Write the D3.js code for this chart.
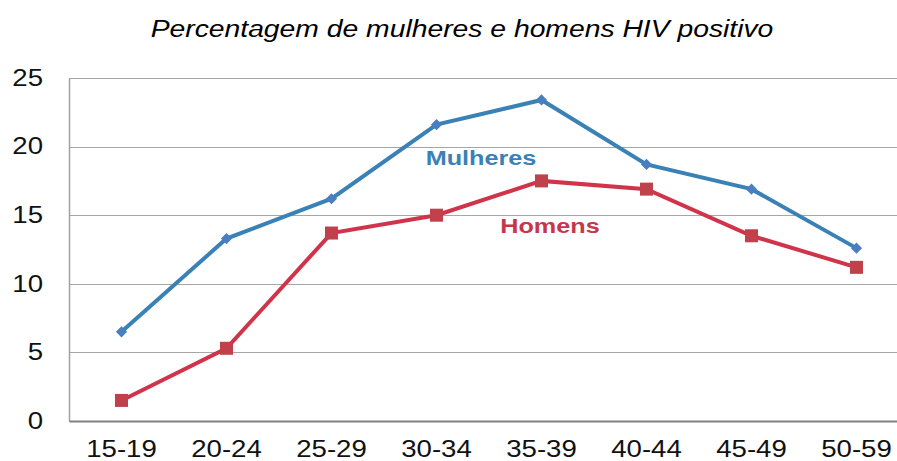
<!DOCTYPE html>
<html>
<head>
<meta charset="utf-8">
<script src="https://cdn.jsdelivr.net/npm/d3@7"></script>
<style>
  body { margin: 0; background: #fff; }
  svg { display: block; font-family: "Liberation Sans", Arial, sans-serif; }
</style>
</head>
<body>
<svg id="chart" width="897" height="461"></svg>
<script>
// age groups and % HIV positive
const ageGroups = ['15-19', '20-24', '25-29', '30-34', '35-39', '40-44', '45-49', '50-59'];
const mulheres = [6.5, 13.3, 16.2, 21.6, 23.4, 18.7, 16.9, 12.6];
const homens = [1.5, 5.3, 13.7, 15.0, 17.5, 16.9, 13.5, 11.2];
const yTicks = [0, 5, 10, 15, 20, 25];

const svg = d3.select('#chart');
const margin = {top: 78, left: 69};

// widen text horizontally, keeping its anchor
function stretch(sel, k = 1.2) {
  sel.each(function() {
    const w = this.getComputedTextLength();
    d3.select(this)
      .attr('textLength', w * k)
      .attr('lengthAdjust', 'spacingAndGlyphs');
  });
}

const x = d3.scaleBand()
  .domain(ageGroups)
  .range([margin.left, margin.left + 105 * ageGroups.length]);

const y = d3.scaleLinear()
  .domain([0, 25])
  .range([421, margin.top]);

// title
svg.append('text')
  .attr('x', 462)
  .attr('y', 37)
  .attr('text-anchor', 'middle')
  .style('font-style', 'italic')
  .style('font-size', '23px')
  .text('Percentagem de mulheres e homens HIV positivo')
  .call(stretch, 1.23);

// gridlines
svg.append('g')
  .selectAll('line')
  .data(yTicks.filter(d => d > 0))
  .join('line')
  .attr('x1', margin.left)
  .attr('x2', 897)
  .attr('y1', d => Math.round(y(d)) + 0.5)
  .attr('y2', d => Math.round(y(d)) + 0.5)
  .attr('stroke', '#a6a6a6')
  .attr('stroke-width', 1.2);

// y axis
const yAxis = svg.append('g')
  .attr('transform', `translate(${margin.left},0)`)
  .call(d3.axisLeft(y).tickValues(yTicks).tickSize(0).tickPadding(26));
yAxis.select('.domain').attr('stroke', '#a0a0a0').attr('stroke-width', 1.5);
yAxis.selectAll('text')
  .style('font-size', '23px')
  .attr('fill', '#111')
  .attr('font-family', '"Liberation Sans", Arial, sans-serif')
  .call(stretch);

// x axis
const xAxis = svg.append('g')
  .attr('transform', `translate(0,${y(0)})`)
  .call(d3.axisBottom(x).tickSize(0).tickPadding(20));
xAxis.select('.domain').attr('stroke', '#808080').attr('stroke-width', 2);
xAxis.selectAll('text')
  .style('font-size', '23px')
  .attr('fill', '#111')
  .attr('font-family', '"Liberation Sans", Arial, sans-serif')
  .call(stretch);

const cx = d => x(d) + x.bandwidth() / 2;
const line = d3.line()
  .x((d, i) => cx(ageGroups[i]))
  .y(d => y(d));

// Mulheres
svg.append('path')
  .datum(mulheres)
  .attr('fill', 'none')
  .attr('stroke', '#3a81b6')
  .attr('stroke-width', 4)
  .attr('d', line);

svg.append('g')
  .selectAll('path')
  .data(mulheres)
  .join('path')
  .attr('d', d3.symbol(d3.symbolDiamond2, 80))
  .attr('transform', (d, i) => `translate(${cx(ageGroups[i])},${y(d)})`)
  .attr('fill', '#4a7ec0');

// Homens
svg.append('path')
  .datum(homens)
  .attr('fill', 'none')
  .attr('stroke', '#d0344a')
  .attr('stroke-width', 4)
  .attr('d', line);

svg.append('g')
  .selectAll('rect')
  .data(homens)
  .join('rect')
  .attr('x', (d, i) => cx(ageGroups[i]) - 6.5)
  .attr('y', d => y(d) - 6.5)
  .attr('width', 13)
  .attr('height', 13)
  .attr('fill', '#c0404c');

// series labels
svg.append('text')
  .attr('x', 481)
  .attr('y', 165)
  .attr('text-anchor', 'middle')
  .style('font-weight', 'bold')
  .style('font-size', '21px')
  .attr('fill', '#3a81b6')
  .text('Mulheres')
  .call(stretch);

svg.append('text')
  .attr('x', 550)
  .attr('y', 233)
  .attr('text-anchor', 'middle')
  .style('font-weight', 'bold')
  .style('font-size', '21px')
  .attr('fill', '#c8364a')
  .text('Homens')
  .call(stretch);
</script>
</body>
</html>
